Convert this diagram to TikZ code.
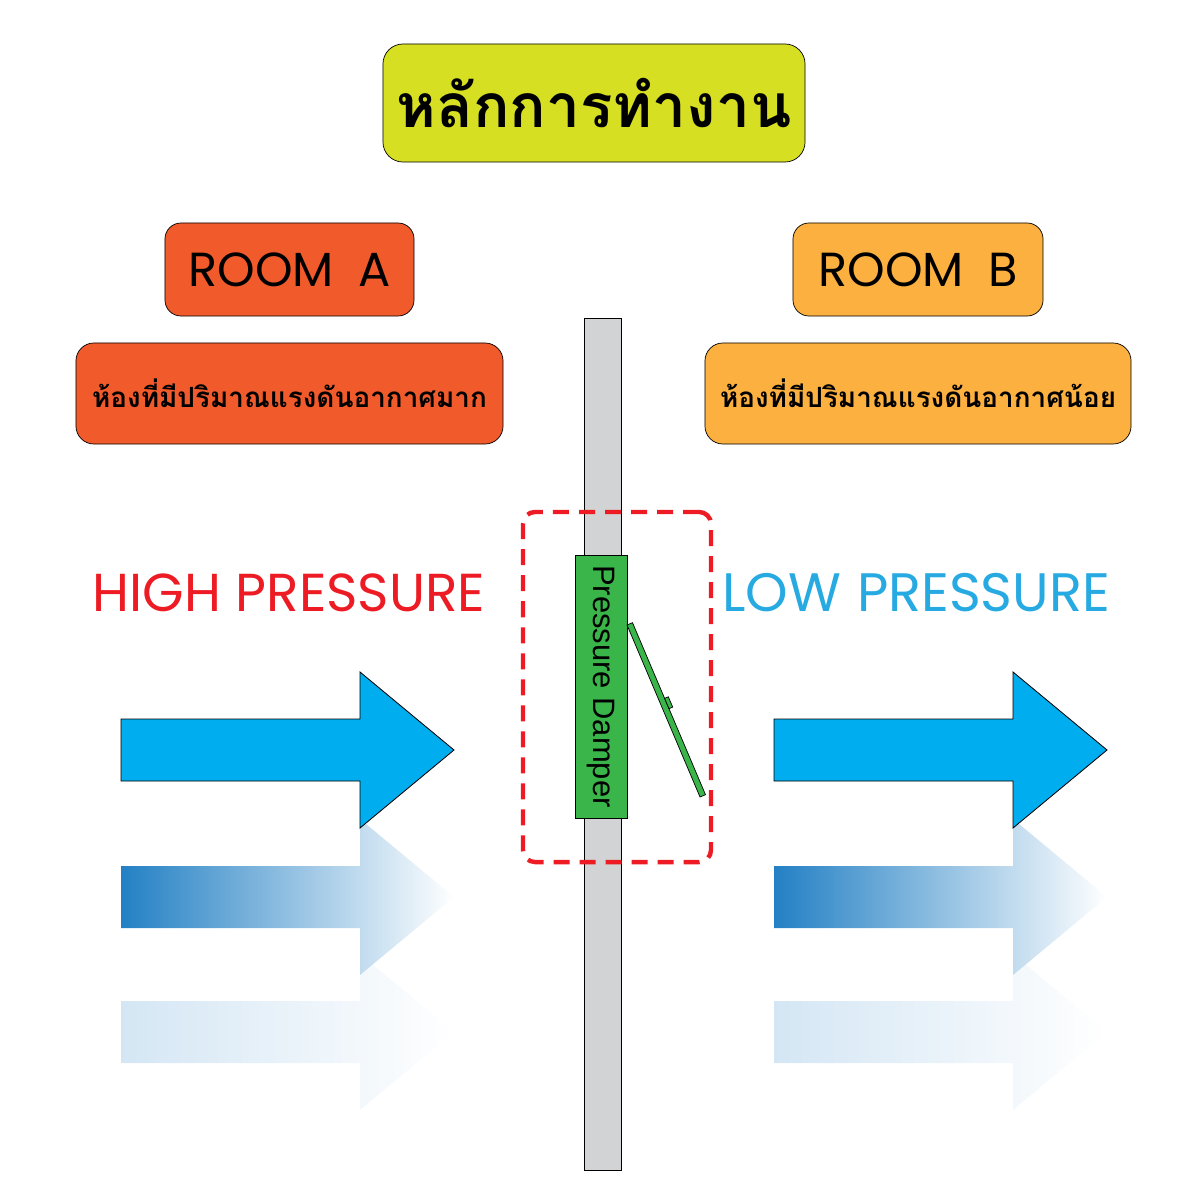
\documentclass[tikz,border=0pt]{standalone}
\usepackage{fontspec}
\setmainfont{Liberation Sans}
\newfontfamily\thaifont[Script=Thai]{Loma}
\newfontfamily\headfont{Poppins}
\usetikzlibrary{positioning}
\definecolor{titlegreen}{HTML}{D7DF23}
\definecolor{roomred}{HTML}{F15A2B}
\definecolor{roomorange}{HTML}{FBB040}
\definecolor{wallgray}{HTML}{D1D3D4}
\definecolor{dampergreen}{HTML}{39B54A}
\definecolor{dashred}{HTML}{ED1C24}
\definecolor{lowblue}{HTML}{27AAE1}
\definecolor{airblue}{HTML}{00AEEF}
\definecolor{airdark}{HTML}{2380C4}
\definecolor{airmid}{HTML}{80B7DF}
\definecolor{airpale}{HTML}{D4E6F4}
\tikzset{
  box/.style={draw=black, line width=0.5pt, align=center, inner sep=0pt},
  airsolid/.style={fill=airblue, draw=black, line width=0.6pt},
  airfade/.style={left color=airdark, middle color=airmid, right color=white, shading angle=90},
  airpale/.style={left color=airpale, right color=white, shading angle=90}
}
% one air arrow: start x, centre y, style
\newcommand{\airarrow}[3]{%
  \path[#3] (#1,#2-31) -- (#1+239,#2-31) -- (#1+239,#2-78) -- (#1+333,#2)
    -- (#1+239,#2+78) -- (#1+239,#2+31) -- (#1,#2+31) -- cycle;}
\begin{document}
\begin{tikzpicture}[x=0.025cm, y=-0.025cm]
\useasboundingbox (0,0) rectangle (1200,1200);
% title and rooms
\node[box, fill=titlegreen, rounded corners=0.5cm, minimum width=10.55cm, minimum height=2.95cm, font=\thaifont\bfseries\fontsize{43}{50}\selectfont] (title) at (594,103) {หลักการทำงาน};
\node[box, fill=roomred, rounded corners=0.4cm, minimum width=6.225cm, minimum height=2.325cm, font=\headfont\fontsize{34}{40}\selectfont] (rooma) at (289.5,269.5) {ROOM\enspace A};
\node[box, fill=roomorange, rounded corners=0.4cm, minimum width=6.25cm, minimum height=2.325cm, font=\headfont\fontsize{34}{40}\selectfont] (roomb) at (918,269.5) {ROOM\enspace B};
\node[box, fill=roomred, rounded corners=0.45cm, minimum width=10.675cm, minimum height=2.525cm, font=\thaifont\bfseries\fontsize{19.8}{24}\selectfont] (desca) at (289.5,393.5) {ห้องที่มีปริมาณแรงดันอากาศมาก};
\node[box, fill=roomorange, rounded corners=0.45cm, minimum width=10.65cm, minimum height=2.525cm, font=\thaifont\bfseries\fontsize{19.8}{24}\selectfont] (descb) at (918,393.5) {ห้องที่มีปริมาณแรงดันอากาศน้อย};
% pressure labels
\node[text=dashred, font=\headfont\fontsize{38}{40}\selectfont, inner sep=0pt] (high) at (289,593) {HIGH PRESSURE};
\node[text=lowblue, font=\headfont\fontsize{38.5}{40}\selectfont, inner sep=0pt] (low) at (916,593) {LOW\hspace{0.3em}PRESSURE};
% wall and damper
\node[box, fill=wallgray, minimum width=0.925cm, minimum height=21.3cm] (wall) at (602.5,744) {};
\node[box, fill=dampergreen, minimum width=6.575cm, minimum height=1.3cm, rotate=-90, font=\fontsize{22}{24}\selectfont] (damper) at (601,686.5) {Pressure Damper};
\node[draw=dashred, line width=1.1mm, dash pattern=on 0.4cm off 0.25cm, rounded corners=0.3cm, minimum width=4.7cm, minimum height=8.75cm] (zone) at (617,687) {};
% flap
\coordinate (hinge) at (627,625);
\coordinate (flaptip) at (700,797);
\draw[fill=dampergreen, line width=0.5pt] (hinge) -- (flaptip) -- (705.5,794.7) -- (632.5,622.7) -- cycle;
\draw[fill=dampergreen, line width=0.5pt] (664.6,698.4) -- (668.3,696.8) -- (672.7,707.1) -- (669,708.7) -- cycle;
% air flow
\airarrow{121}{1032}{airpale}
\airarrow{121}{897}{airfade}
\airarrow{121}{750}{airsolid}
\airarrow{774}{1032}{airpale}
\airarrow{774}{897}{airfade}
\airarrow{774}{750}{airsolid}
\end{tikzpicture}
\end{document}
